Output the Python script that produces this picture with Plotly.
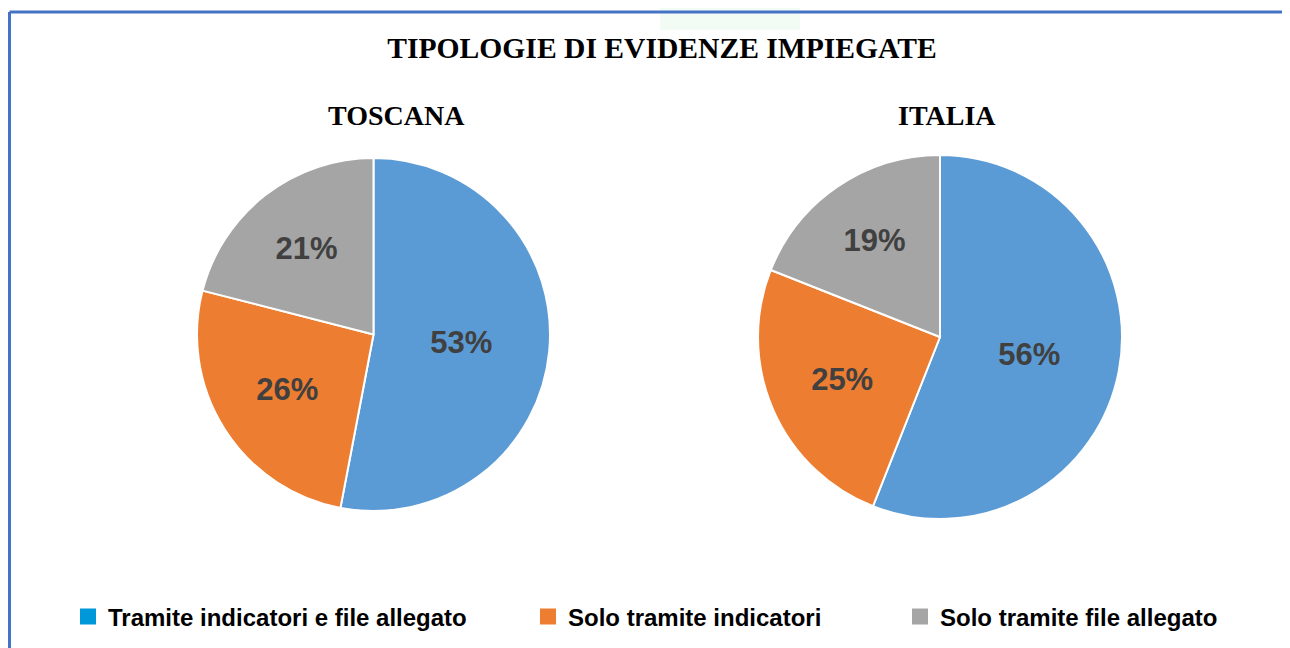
import plotly.graph_objects as go

# Data
categories = ["Tramite indicatori e file allegato", "Solo tramite indicatori", "Solo tramite file allegato"]
toscana_values = [53, 26, 21]
italia_values = [56, 25, 19]
slice_colors = ["#5B9BD5", "#ED7D31", "#A5A5A5"]
legend_colors = ["#0098D8", "#ED7D31", "#A5A5A5"]

# the page body has an 8px margin, so the figure is drawn a bit smaller
PAD = 8
W, H = 1290 - PAD, 648 - PAD


def px_x(x):
    return (x - PAD) / W


def px_y(y):
    return 1 - (y - PAD) / H


fig = go.Figure()

pie_style = dict(
    sort=False,
    direction="clockwise",
    rotation=0,
    marker=dict(colors=slice_colors, line=dict(color="white", width=2)),
    texttemplate="%{percent:.0%}",
    textposition="inside",
    insidetextorientation="horizontal",
    textfont=dict(family="Liberation Sans", size=31, color="#404040", weight="bold"),
    showlegend=False,
    hoverinfo="label+percent",
)

# Toscana pie
fig.add_trace(go.Pie(
    labels=categories, values=toscana_values, name="TOSCANA",
    domain=dict(x=[px_x(197), px_x(550)], y=[px_y(511), px_y(158)]),
    **pie_style
))

# Italia pie
fig.add_trace(go.Pie(
    labels=categories, values=italia_values, name="ITALIA",
    domain=dict(x=[px_x(758), px_x(1122)], y=[px_y(519), px_y(155)]),
    **pie_style
))

# legend entries (one legend per item so they sit like the original)
legend_ids = ["legend", "legend2", "legend3"]
for cat, col, lid in zip(categories, legend_colors, legend_ids):
    fig.add_trace(go.Scatter(
        x=[None], y=[None], mode="markers", name=cat,
        marker=dict(symbol="square", size=20, color=col, line=dict(width=0)),
        legend=lid, showlegend=True,
    ))

legend_style = dict(
    orientation="h", yanchor="middle", y=px_y(617), xanchor="left",
    bgcolor="rgba(0,0,0,0)",
    font=dict(family="Liberation Sans", size=24, color="#000000", weight="bold"),
)

fig.update_layout(
    width=W, height=H,
    margin=dict(l=0, r=0, t=0, b=0),
    paper_bgcolor="white", plot_bgcolor="white",
    xaxis=dict(visible=False), yaxis=dict(visible=False),
    legend=dict(x=px_x(68), **legend_style),
    legend2=dict(x=px_x(528), **legend_style),
    legend3=dict(x=px_x(900), **legend_style),
    title=dict(
        text="TIPOLOGIE DI EVIDENZE IMPIEGATE",
        x=px_x(662), xanchor="center", y=px_y(48), yanchor="middle",
        font=dict(family="Liberation Serif", size=29.6, color="#000000", weight="bold"),
    ),
    annotations=[
        dict(text="TOSCANA", x=px_x(396), y=px_y(115), xref="paper", yref="paper",
             showarrow=False, xanchor="center", yanchor="middle",
             font=dict(family="Liberation Serif", size=28, color="#000000", weight="bold")),
        dict(text="ITALIA", x=px_x(947), y=px_y(115), xref="paper", yref="paper",
             showarrow=False, xanchor="center", yanchor="middle",
             font=dict(family="Liberation Serif", size=28, color="#000000", weight="bold")),
    ],
    shapes=[
        # faint green patch at top centre
        dict(type="rect", xref="paper", yref="paper", x0=px_x(660), x1=px_x(800),
             y0=px_y(30), y1=1, fillcolor="#F2FBF4", line=dict(width=0), layer="below"),
        # frame border (top and left)
        dict(type="line", xref="paper", yref="paper", x0=px_x(9.5), x1=1,
             y0=px_y(12), y1=px_y(12), line=dict(color="#4472C4", width=3)),
        dict(type="line", xref="paper", yref="paper", x0=px_x(9.5), x1=px_x(9.5),
             y0=0, y1=px_y(12), line=dict(color="#4472C4", width=3)),
    ],
)

fig.write_html("out.html")
